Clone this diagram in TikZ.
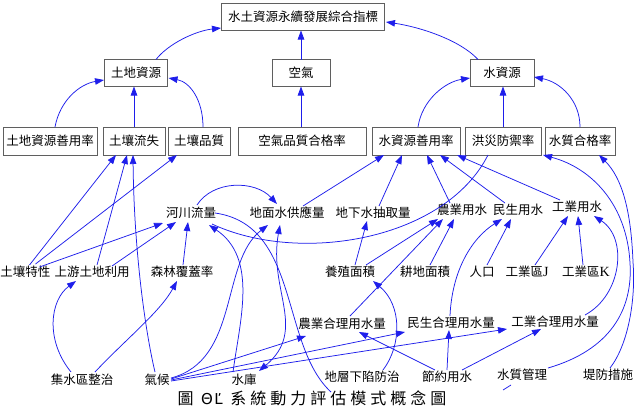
\documentclass[tikz,border=0pt]{standalone}
\usepackage{fontspec}
\setmainfont{Noto Sans CJK TC}
\newfontfamily\latserif{Liberation Serif}
\newfontfamily\capfont[LetterSpace=25]{Noto Sans CJK TC}
\newfontfamily\dvs[LetterSpace=10]{DejaVu Sans}
\usetikzlibrary{arrows.meta,calc}
\definecolor{ln}{RGB}{30,30,235}
\definecolor{bx}{RGB}{95,95,95}
\tikzset{
  bxs/.style={draw=bx, line width=0.9pt, inner sep=0pt, minimum height=27pt, font=\fontsize{12.5}{14}\selectfont},
  lbl/.style={inner sep=0pt, font=\fontsize{12.5}{14}\selectfont},
  ar/.style={draw=ln, line width=0.75pt, -{Triangle[length=9pt,width=6.5pt]}},
  arb/.style={draw=ln, line width=0.75pt, {Triangle[length=9pt,width=6.5pt]}-{Triangle[length=9pt,width=6.5pt]}},
  pl/.style={draw=ln, line width=0.75pt},
}
\begin{document}
\begin{tikzpicture}[x=1pt,y=-1pt]
\path[use as bounding box, fill=white] (0,0) rectangle (634,410);
% boxes
\node[bxs, minimum width=163pt] (T) at (303,17) {水土資源永續發展綜合指標};
\node[bxs, minimum width=63pt] (L1) at (136,73) {土地資源};
\node[bxs, minimum width=58pt] (A1) at (301,73) {空氣};
\node[bxs, minimum width=64pt] (W1) at (502,73) {水資源};
\node[bxs, minimum width=94pt, minimum height=28pt] (B1) at (50,141) {土地資源善用率};
\node[bxs, minimum width=62pt, minimum height=28pt] (B2) at (134,141) {土壤流失};
\node[bxs, minimum width=62pt, minimum height=28pt] (B3) at (199,141) {土壤品質};
\node[bxs, minimum width=128pt, minimum height=28pt] (B4) at (302,141) {空氣品質合格率};
\node[bxs, minimum width=88pt, minimum height=28pt] (B5) at (416,141) {水資源善用率};
\node[bxs, minimum width=76pt, minimum height=28pt] (B6) at (503,141) {洪災防禦率};
\node[bxs, minimum width=70pt, minimum height=28pt] (B7) at (580,141) {水質合格率};
% labels
\node[lbl] (hl) at (191,213) {河川流量};
\node[lbl] (sw) at (287,213) {地面水供應量};
\node[lbl] (gw) at (373,213) {地下水抽取量};
\node[lbl] (ag) at (462,210) {農業用水};
\node[lbl] (dm) at (518,210) {民生用水};
\node[lbl] (ind) at (577,207) {工業用水};
\node[lbl] (soil) at (25.5,272) {土壤特性};
\node[lbl] (up) at (92,272) {上游土地利用};
\node[lbl] (forest) at (182,272) {森林覆蓋率};
\node[lbl] (aqua) at (350,272) {養殖面積};
\node[lbl] (farm) at (425,272) {耕地面積};
\node[lbl] (pop) at (482,272) {人口};
\node[lbl] (izj) at (527,272) {工業區{\latserif\fontsize{14}{14}\selectfont J}};
\node[lbl] (izk) at (586,272) {工業區{\latserif\fontsize{14}{14}\selectfont K}};
\node[lbl] (agr) at (342,324) {農業合理用水量};
\node[lbl] (dmr) at (451,323) {民生合理用水量};
\node[lbl] (inr) at (555,322) {工業合理用水量};
\node[lbl] (cat) at (82,380) {集水區整治};
\node[lbl] (clim) at (157,380) {氣候};
\node[lbl] (res) at (244,380) {水庫};
\node[lbl] (subs) at (362,377) {地層下陷防治};
\node[lbl] (save) at (447,377) {節約用水};
\node[lbl] (wq) at (522,375) {水質管理};
\node[lbl] (dike) at (608,375) {堤防措施};
\node[inner sep=0pt, font=\capfont\fontsize{16}{18}\selectfont] (cap) at (312,398) {圖 {\dvs\fontsize{15}{18}\selectfont ΘĽ} 系統動力評估模式概念圖};
\coordinate (capend) at (331,392);
\coordinate (d1) at (503,390);
\coordinate (d2) at (511,385);
% top level
\draw[ar] ($(L1)+(20,-13.5)$) .. controls (168,44) and (195,31) .. ($(T)+(-82,11)$);
\draw[ar] ($(A1)+(0,-13.5)$) -- ($(T)+(-2,13.5)$);
\draw[ar] ($(W1)+(-24,-13.5)$) .. controls (460,40) and (420,27) .. ($(T)+(83,5)$);
\draw[ar] ($(B1)+(5,-14)$) .. controls (60,100) and (80,84) .. ($(L1)+(-32,7)$);
\draw[ar] ($(B2)+(0,-14)$) -- ($(L1)+(-2,13.5)$);
\draw[ar] ($(B3)+(4,-14)$) .. controls (203,100) and (190,82) .. ($(L1)+(32.5,5)$);
\draw[ar] ($(B4)+(-1,-14)$) -- ($(A1)+(0,13.5)$);
\draw[ar] ($(B5)+(2,-14)$) .. controls (422,100) and (445,82) .. ($(W1)+(-32,5)$);
\draw[ar] ($(B6)+(0,-14)$) -- ($(W1)+(1,13.5)$);
\draw[ar] ($(B7)+(0,-14)$) .. controls (580,100) and (560,82) .. ($(W1)+(32,4)$);
% lower
\draw[ar] ($(soil)+(4,-7)$) -- ($(B2)+(-18,14)$);
\draw[ar] ($(soil)+(10,-8)$) -- ($(B3)+(-22,14)$);
\draw[ar] ($(soil)+(14,-5)$) -- ($(hl)+(-28,10)$);
\draw[ar] ($(up)+(5,-7)$) -- ($(B2)+(-7,14)$);
\draw[ar] ($(up)+(20,-6)$) -- ($(hl)+(-15,9)$);
\draw[ar] ($(clim)+(-2,-8)$) .. controls (145,330) and (134,250) .. ($(B2)+(-1,14)$);
\draw[ar] ($(forest)+(1,-7)$) -- ($(hl)+(-3,9)$);
\draw[ar] ($(hl)+(6,-8)$) .. controls (213,180) and (255,180) .. ($(sw)+(-10,-9)$);
\draw[ar] ($(sw)+(16,-7)$) -- ($(B5)+(-32,14)$);
\draw[ar] ($(gw)+(6,-7)$) -- ($(B5)+(-14,14)$);
\draw[ar] ($(ag)+(-12,-7)$) -- ($(B5)+(11,14)$);
\draw[ar] ($(dm)+(-13,-7)$) -- ($(B5)+(24,14)$);
\draw[ar] ($(ind)+(-17,-7)$) -- ($(B5)+(41,14)$);
\draw[pl] ($(B6)+(-15,14)$) .. controls (445,240) and (300,265) .. ($(hl)+(21,11)$);
\draw[ar] ($(res)+(-11,-8)$) .. controls (240,320) and (258,258) .. ($(hl)+(18,12)$);
\draw[ar] ($(clim)+(14,-2)$) .. controls (240,360) and (220,262) .. ($(sw)+(-19,12)$);
\draw[arb] ($(sw)+(-7,12)$) .. controls (268,290) and (308,330) .. ($(res)+(15,-9)$);
\draw[pl] ($(hl)+(24,0)$) .. controls (300,225) and (280,345) .. (capend);
\draw[ar] ($(clim)+(14,-1)$) -- ($(agr)+(-36,12)$);
\draw[ar] ($(clim)+(14,0)$) -- ($(dmr)+(-46,9)$);
\draw[ar] ($(clim)+(14,1)$) -- ($(inr)+(-48,7)$);
\draw[ar] ($(cat)+(-11,-8)$) .. controls (45,340) and (50,300) .. ($(up)+(-16,9)$);
\draw[ar] ($(cat)+(13,-8)$) .. controls (125,340) and (160,312) .. ($(forest)+(-5,9)$);
\draw[ar] ($(aqua)+(5,-7)$) -- ($(gw)+(-6,8)$);
\draw[ar] ($(aqua)+(16,-7)$) -- ($(ag)+(-24,9)$);
\draw[ar] ($(agr)+(8,-8)$) -- ($(ag)+(-19,9)$);
\draw[ar] ($(farm)+(5,-7)$) -- ($(ag)+(-8,9)$);
\draw[ar] ($(pop)+(5,-7)$) -- ($(dm)+(-7,9)$);
\draw[ar] ($(dmr)+(-1,-7)$) .. controls (452,270) and (472,238) .. ($(dm)+(-16,9)$);
\draw[ar] ($(izj)+(8,-7)$) -- ($(ind)+(-9,9)$);
\draw[ar] ($(izk)+(-3,-7)$) -- ($(ind)+(1,9)$);
\draw[ar] ($(inr)+(30,-7)$) .. controls (622,295) and (628,238) .. ($(ind)+(17,9)$);
\draw[ar] ($(save)+(0,-7)$) -- ($(dmr)+(-2,7)$);
\draw[ar] ($(save)+(15,-7)$) -- ($(inr)+(-14,7)$);
\draw[ar] ($(save)+(-12,-7)$) -- ($(agr)+(17,8)$);
\draw[ar] ($(subs)+(21,-7)$) .. controls (402,345) and (402,305) .. ($(aqua)+(23,9)$);
\draw[ar] ($(wq)+(26,-7)$) .. controls (610,350) and (633,310) .. (630,263) .. controls (627,205) and (592,168) .. ($(B6)+(40,14)$);
\draw[ar] ($(dike)+(2,-7)$) .. controls (628,345) and (636,300) .. (633,262) .. controls (631,210) and (622,178) .. ($(B7)+(19,14)$);
\draw[pl] (d1) -- (d2);
\end{tikzpicture}
\end{document}
